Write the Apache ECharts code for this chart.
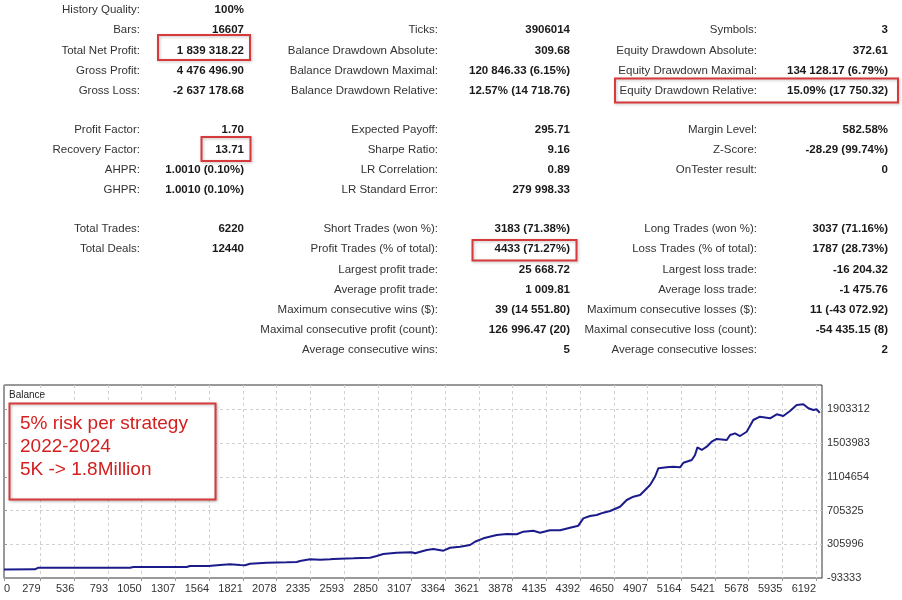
<!DOCTYPE html>
<html>
<head>
<meta charset="utf-8">
<title>Balance</title>
<script src="https://cdn.jsdelivr.net/npm/echarts@6/dist/echarts.min.js"></script>
<style>
html,body{margin:0;padding:0;background:#fff;}
#main{width:902px;height:600px;}
</style>
</head>
<body>
<div id="main"></div>
<script>
// report table, one array per column and block: [label, value]
var block1Left = [["History Quality:","100%"],["Bars:","16607"],["Total Net Profit:","1 839 318.22"],["Gross Profit:","4 476 496.90"],["Gross Loss:","-2 637 178.68"]];
var block1Mid = [["",""],["Ticks:","3906014"],["Balance Drawdown Absolute:","309.68"],["Balance Drawdown Maximal:","120 846.33 (6.15%)"],["Balance Drawdown Relative:","12.57% (14 718.76)"]];
var block1Right = [["",""],["Symbols:","3"],["Equity Drawdown Absolute:","372.61"],["Equity Drawdown Maximal:","134 128.17 (6.79%)"],["Equity Drawdown Relative:","15.09% (17 750.32)"]];

var block2Left = [["Profit Factor:","1.70"],["Recovery Factor:","13.71"],["AHPR:","1.0010 (0.10%)"],["GHPR:","1.0010 (0.10%)"]];
var block2Mid = [["Expected Payoff:","295.71"],["Sharpe Ratio:","9.16"],["LR Correlation:","0.89"],["LR Standard Error:","279 998.33"]];
var block2Right = [["Margin Level:","582.58%"],["Z-Score:","-28.29 (99.74%)"],["OnTester result:","0"]];

var block3Left = [["Total Trades:","6220"],["Total Deals:","12440"]];
var block3Mid = [["Short Trades (won %):","3183 (71.38%)"],["Profit Trades (% of total):","4433 (71.27%)"],["Largest profit trade:","25 668.72"],["Average profit trade:","1 009.81"],["Maximum consecutive wins ($):","39 (14 551.80)"],["Maximal consecutive profit (count):","126 996.47 (20)"],["Average consecutive wins:","5"]];
var block3Right = [["Long Trades (won %):","3037 (71.16%)"],["Loss Trades (% of total):","1787 (28.73%)"],["Largest loss trade:","-16 204.32"],["Average loss trade:","-1 475.76"],["Maximum consecutive losses ($):","11 (-43 072.92)"],["Maximal consecutive loss (count):","-54 435.15 (8)"],["Average consecutive losses:","2"]];

var noteLines = ["5% risk per strategy","2022-2024","5K -> 1.8Million"];

// balance curve
var trades = [0,236,262,961,986,1393,1418,1558,1647,1723,1800,1838,1876,2003,2156,2232,2257,2333,2410,2486,2511,2562,2664,2791,2842,2892,2994,3109,3134,3223,3274,3350,3401,3477,3553,3591,3655,3757,3833,3909,3960,4036,4087,4163,4240,4316,4379,4392,4417,4468,4519,4570,4621,4697,4748,4799,4850,4875,4926,4964,4989,5053,5103,5155,5180,5244,5269,5287,5320,5358,5396,5434,5511,5536,5574,5612,5663,5713,5764,5841,5892,5942,5993,6044,6095,6133,6171,6197,6220];
var balance = [6000,9000,28600,28600,36900,36900,48700,48700,60500,68800,60500,56800,76000,87800,92500,96000,107900,128000,123000,128000,131600,135000,140000,147000,167000,190700,206000,211000,199000,238000,250000,230000,265000,277000,297000,336000,376500,416000,427500,424000,455000,466500,443000,471000,471000,502000,526000,522000,613000,640500,652000,680000,700000,750000,830000,869000,889000,928000,1007500,1105000,1205000,1217000,1224000,1217000,1271000,1303000,1362500,1453000,1422000,1461000,1520000,1552000,1540000,1599000,1619000,1587000,1638000,1777000,1816000,1797000,1844000,1824000,1883000,1954000,1963000,1915000,1895000,1903000,1860000];

var xTicks = [0,279,536,793,1050,1307,1564,1821,2078,2335,2593,2850,3107,3364,3621,3878,4135,4392,4650,4907,5164,5421,5678,5935,6192];
var yTicks = [-93333,305996,705325,1104654,1503983,1903312];

var FONT = '"Liberation Sans", Arial, sans-serif';
var ROW_H = 20.2;
var graphics = [];

//画一列 标签右对齐 数值右对齐
function addColumn(rows, top, labelRight, valueRight){
	for(var i=0;i<rows.length;i++){
		if(rows[i][0]==""){ continue; }
		var y = top + i*ROW_H;
		graphics.push({type:'text', z:10, style:{text:rows[i][0], x:labelRight, y:y, align:'right', verticalAlign:'middle', font:'11.5px '+FONT, fill:'#333'}});
		graphics.push({type:'text', z:10, style:{text:rows[i][1], x:valueRight, y:y, align:'right', verticalAlign:'middle', font:'bold 11.5px '+FONT, fill:'#1a1a1a'}});
	}
};

var cols = [[140,244],[438,570],[757,888]];
addColumn(block1Left, 10, cols[0][0], cols[0][1]);
addColumn(block1Mid, 10, cols[1][0], cols[1][1]);
addColumn(block1Right, 10, cols[2][0], cols[2][1]);
addColumn(block2Left, 129.5, cols[0][0], cols[0][1]);
addColumn(block2Mid, 129.5, cols[1][0], cols[1][1]);
addColumn(block2Right, 129.5, cols[2][0], cols[2][1]);
addColumn(block3Left, 229, cols[0][0], cols[0][1]);
addColumn(block3Mid, 229, cols[1][0], cols[1][1]);
addColumn(block3Right, 229, cols[2][0], cols[2][1]);

//红框
function redBox(x, y, w, h, fill){
	graphics.push({type:'rect', z:20, shape:{x:x, y:y, width:w, height:h},
		style:{fill:fill || 'none', stroke:'#d63a3a', lineWidth:2, shadowBlur:3, shadowColor:'rgba(0,0,0,0.25)', shadowOffsetX:1, shadowOffsetY:1}});
};
redBox(158, 35, 92, 25);
redBox(201.5, 137, 49, 24);
redBox(615, 78.5, 283, 24);
redBox(472.5, 240, 104, 20.5);

graphics.push({type:'text', z:30, style:{text:'Balance', x:9, y:395, verticalAlign:'middle', font:'10px '+FONT, fill:'#222'}});
redBox(9.5, 403.5, 206, 96, '#fff');
for(var k=0;k<noteLines.length;k++){
	graphics.push({type:'text', z:30, style:{text:noteLines[k], x:20, y:423.5+k*23, verticalAlign:'middle', font:'19px '+FONT, fill:'#d41f1f'}});
}

var points = [];
for(var j=0;j<trades.length;j++){ points.push([trades[j], balance[j]]); }

var myChart = echarts.init(document.getElementById('main'));
var option = {
	animation:false,
	backgroundColor:'#fff',
	grid:{left:4, top:385, right:80, bottom:22, show:true, borderColor:'#333', borderWidth:1, backgroundColor:'#fff'},
	xAxis:{
		type:'value', min:0, max:6237,
		axisLine:{show:true, onZero:false, lineStyle:{color:'#999'}},
		axisTick:{show:true, length:3, customValues:xTicks, lineStyle:{color:'#999'}},
		axisLabel:{customValues:xTicks, align:'right', alignMinLabel:'left', margin:5, color:'#333', fontSize:11, fontFamily:FONT,
			formatter:function(v){ return String(v); }},
		splitLine:{show:true, lineStyle:{color:'#d0d0d0', type:[3,3]}}
	},
	yAxis:{
		type:'value', position:'right', min:-93333, max:2191000,
		axisLine:{show:true, lineStyle:{color:'#999'}},
		axisTick:{show:true, length:3, customValues:yTicks, lineStyle:{color:'#999'}},
		axisLabel:{customValues:yTicks, margin:5, color:'#333', fontSize:11, fontFamily:FONT,
			formatter:function(v){ return String(v); }},
		splitLine:{show:true, lineStyle:{color:'#d0d0d0', type:[3,3]}}
	},
	series:[{
		type:'line', data:points, symbol:'none', smooth:false,
		lineStyle:{color:'#1b1b8c', width:2}
	}],
	graphic:graphics
};
myChart.setOption(option);
</script>
</body>
</html>
